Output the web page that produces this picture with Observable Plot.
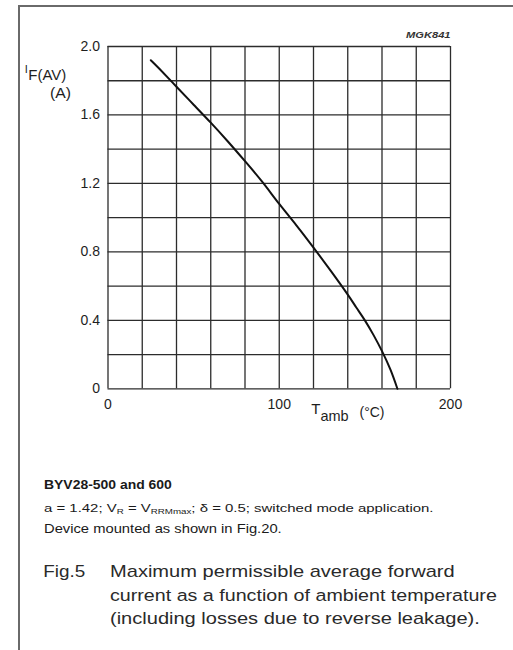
<!DOCTYPE html>
<html>
<head>
<meta charset="utf-8">
<script src="https://cdn.jsdelivr.net/npm/d3@7"></script>
<script src="https://cdn.jsdelivr.net/npm/@observablehq/plot@0.6"></script>
<style>
  html, body { margin: 0; padding: 0; background: #ffffff; overflow: hidden; }
  #wrap { position: relative; width: 513px; height: 650px; font-family: "Liberation Sans", Arial, sans-serif; }
  #border { position: absolute; left: 18px; top: 5px; width: 520px; height: 660px;
            border-top: 2.5px solid #6a6a6a; border-left: 2.5px solid #6a6a6a; }
  #chart { position: absolute; left: 0; top: 0; }
  #caption { position: absolute; left: 0; top: 440px; }
</style>
</head>
<body>
<div id="wrap">
  <div id="border"></div>
  <div id="chart"></div>
  <svg id="caption" width="513" height="210"></svg>
</div>
<script>
// Data
const tempC    = [25, 30, 40, 50, 60, 70, 80, 90, 100, 110, 120, 130, 140, 145, 150, 155, 160, 165, 169];
const currentA = [1.92, 1.87, 1.765, 1.66, 1.555, 1.445, 1.33, 1.21, 1.08, 0.955, 0.825, 0.69, 0.55, 0.475, 0.40, 0.315, 0.22, 0.11, 0];

// Axis ticks and grid
const xTicks = [0, 100, 200];
const yTicks = [0, 0.4, 0.8, 1.2, 1.6, 2.0];
const xGrid  = [0, 20, 40, 60, 80, 100, 120, 140, 160, 180, 200];
const yGrid  = [0, 0.2, 0.4, 0.6, 0.8, 1.0, 1.2, 1.4, 1.6, 1.8, 2.0];

// Text
const chartId   = "MGK841";
const noteTitle = "BYV28-500 and 600";
const noteLine2 = "Device mounted as shown in Fig.20.";
const figNo     = "Fig.5";
const figLines  = ["Maximum permissible average forward",
                   "current as a function of ambient temperature",
                   "(including losses due to reverse leakage)."];

const data = tempC.map((t, k) => ({t, i: currentA[k]}));

const gridStroke = "#2c2c2c";
const chart = Plot.plot({
  width: 513,
  height: 440,
  marginLeft: 107.5,
  marginRight: 63,
  marginTop: 46,
  marginBottom: 51.7,
  style: {fontFamily: "'Liberation Sans', Arial, sans-serif", fontSize: "14px", color: "#1e1e1e", background: "transparent"},
  x: {domain: [0, 200]},
  y: {domain: [0, 2]},
  marks: [
    Plot.ruleX(xGrid, {stroke: gridStroke, strokeWidth: 1.3}),
    Plot.ruleY(yGrid, {stroke: gridStroke, strokeWidth: 1.3}),
    Plot.axisX(xTicks, {tickSize: 0, tickPadding: 10, label: null}),
    Plot.axisY(yTicks, {tickSize: 0, tickPadding: 8, label: null, tickFormat: d => d === 0 ? "0" : d.toFixed(1)}),
    Plot.line(data, {x: "t", y: "i", curve: "natural", stroke: "#111", strokeWidth: 2})
  ]
});
document.getElementById("chart").appendChild(chart);

const svg = d3.select(chart);
const fill = "#1e1e1e";

// chart id
svg.append("text").attr("x", 450.5).attr("y", 38.3).attr("text-anchor", "end")
  .attr("font-size", 9).attr("font-style", "italic").attr("font-weight", "bold").attr("fill", "#333")
  .attr("data-w", 44.5).text(chartId);

// y label I_F(AV) (A)
const yl = svg.append("text").attr("x", 45.5).attr("y", 73).attr("fill", fill).attr("font-size", 11);
yl.append("tspan").text("I");
yl.append("tspan").attr("dy", 7).attr("dx", 0.5).attr("font-size", 15).text("F(AV)");
svg.append("text").attr("x", 60.5).attr("y", 97.7).attr("fill", fill).attr("font-size", 15)
  .attr("data-w", 21).text("(A)");

// x label T_amb (°C)
const xl = svg.append("text").attr("x", 330).attr("y", 414).attr("fill", fill).attr("font-size", 15);
xl.append("tspan").text("T");
xl.append("tspan").attr("dy", 6.5).attr("font-size", 14.5).text("amb");
svg.append("text").attr("x", 372).attr("y", 417.5).attr("fill", fill).attr("font-size", 14)
  .attr("data-w", 25).text("(°C)");

// caption block
const cap = d3.select("#caption");
cap.append("text").attr("x", 44).attr("y", 49.3).attr("font-size", 12.5).attr("font-weight", "bold")
  .attr("fill", "#1a1a1a").attr("data-w", 128).text(noteTitle);

const l2 = cap.append("text").attr("x", 44).attr("y", 71.7).attr("font-size", 11.5).attr("fill", "#1a1a1a").attr("data-w", 390);
l2.append("tspan").text("a = 1.42; V");
l2.append("tspan").attr("dy", 2.5).attr("font-size", 7.5).text("R");
l2.append("tspan").attr("dy", -2.5).text(" = V");
l2.append("tspan").attr("dy", 2.5).attr("font-size", 7.5).text("RRMmax");
l2.append("tspan").attr("dy", -2.5).text("; δ = 0.5; switched mode application.");

cap.append("text").attr("x", 44).attr("y", 93.3).attr("font-size", 12).attr("fill", "#1a1a1a")
  .attr("data-w", 238).text(noteLine2);

cap.append("text").attr("x", 43.3).attr("y", 137).attr("font-size", 17).attr("fill", "#2a2a2a")
  .attr("data-w", 42).text(figNo);
const capW = [345, 387, 370];
const capY = [137, 160.8, 184.4];
figLines.forEach((s, k) => {
  cap.append("text").attr("x", 110).attr("y", capY[k]).attr("font-size", 17).attr("fill", "#2a2a2a")
    .attr("data-w", capW[k]).text(s);
});

// stretch text horizontally to match the scanned widths
function fitAll() {
  document.querySelectorAll("text[data-w]").forEach(el => {
    const w = +el.getAttribute("data-w");
    const bw = el.getBBox().width;
    const x = +el.getAttribute("x");
    if (bw > 0) el.setAttribute("transform", `translate(${x},0) scale(${w / bw},1) translate(${-x},0)`);
  });
}
fitAll();
</script>
</body>
</html>
